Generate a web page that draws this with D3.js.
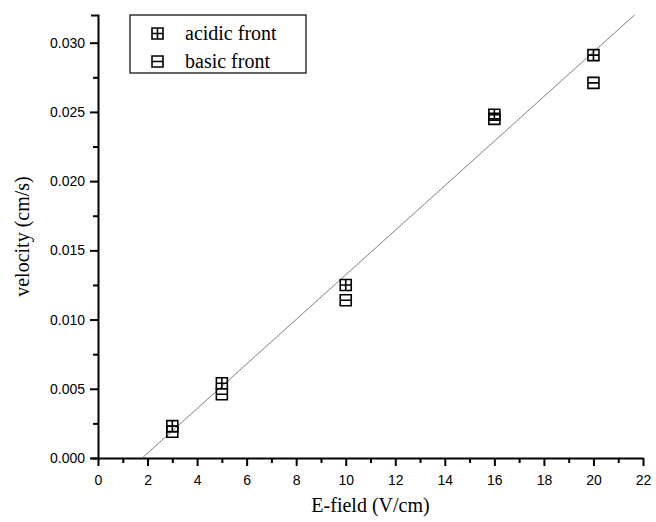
<!DOCTYPE html>
<html>
<head>
<meta charset="utf-8">
<script src="https://cdn.jsdelivr.net/npm/d3@7"></script>
<style>
  body { margin: 0; background: #fff; }
  .tick text { font-family: "Liberation Sans", Arial, sans-serif; font-size: 14px; fill: #000; }
  .title { font-family: "Liberation Serif", "Times New Roman", serif; font-size: 20px; fill: #000; }
</style>
</head>
<body>
<svg id="chart" width="656" height="522"></svg>
<script>
// E-field (V/cm) vs front velocity (cm/s)
const efield = [3, 5, 10, 16, 20];
const acidic = [0.0023, 0.0054, 0.0125, 0.0248, 0.0291];
const basic  = [0.0019, 0.0046, 0.0114, 0.0245, 0.0271];

// linear fit drawn through the points
const fitSlope = 0.00161;
const fitIntercept = -0.00287;

const xTicks = d3.range(0, 23, 2);
const yTicks = [0, 0.005, 0.010, 0.015, 0.020, 0.025, 0.030];

const svg = d3.select('#chart');

const x = d3.scaleLinear().domain([0, 22]).range([98, 643]);
const y = d3.scaleLinear().domain([0, 0.032]).range([458, 15]);

// minor ticks first, then major axes on top
svg.append('g')
    .attr('transform', `translate(0, ${y(0)})`)
    .call(d3.axisBottom(x).tickValues(d3.range(1, 22, 2)).tickSize(5).tickFormat(''))
    .call(g => g.select('.domain').remove());

svg.append('g')
    .attr('transform', `translate(${x(0)}, 0)`)
    .call(d3.axisLeft(y).tickValues(d3.range(0.0025, 0.031, 0.005)).tickSize(5).tickFormat(''))
    .call(g => g.select('.domain').remove());

svg.append('g')
    .attr('transform', `translate(0, ${y(0)})`)
    .call(d3.axisBottom(x).tickValues(xTicks).tickSize(8).tickSizeOuter(0).tickPadding(9).tickFormat(d3.format('d')));

svg.append('g')
    .attr('transform', `translate(${x(0)}, 0)`)
    .call(d3.axisLeft(y).tickValues(yTicks).tickSize(8).tickSizeOuter(7).tickPadding(5).tickFormat(d3.format('.3f')));

svg.selectAll('.domain, .tick line')
    .attr('stroke', '#000')
    .attr('stroke-width', 2);

// fit line, clipped to the plotting area
const x0 = -fitIntercept / fitSlope;
const x1 = (y.domain()[1] - fitIntercept) / fitSlope;
svg.append('line')
    .attr('x1', x(x0)).attr('y1', y(0))
    .attr('x2', x(x1)).attr('y2', y(fitSlope * x1 + fitIntercept))
    .attr('stroke', '#808080')
    .attr('stroke-width', 1);

// marker glyphs
const half = 5.5;
function boxPath(cx, cy, cross) {
  let p = `M${cx - half},${cy - half}h${2 * half}v${2 * half}h${-2 * half}Z` +
          `M${cx - half},${cy}h${2 * half}`;
  if (cross) p += `M${cx},${cy - half}v${2 * half}`;
  return p;
}

function drawSeries(values, cross) {
  svg.append('g')
    .selectAll('path')
    .data(values.map((v, i) => ({x: efield[i], y: v})))
    .enter()
    .append('path')
      .attr('d', d => boxPath(x(d.x), y(d.y), cross))
      .attr('fill', 'none')
      .attr('stroke', '#000')
      .attr('stroke-width', 1.6);
}
drawSeries(basic, false);
drawSeries(acidic, true);

// legend
const legend = svg.append('g');
legend.append('rect')
    .attr('x', 130).attr('y', 15)
    .attr('width', 176).attr('height', 58)
    .attr('fill', '#fff')
    .attr('stroke', '#000')
    .attr('stroke-width', 1.2);

[{label: 'acidic front', cross: true}, {label: 'basic front', cross: false}].forEach((d, i) => {
  const cy = 33.5 + i * 28;
  legend.append('path')
      .attr('d', boxPath(157.5, cy, d.cross))
      .attr('fill', 'none')
      .attr('stroke', '#000')
      .attr('stroke-width', 1.6);
  legend.append('text')
      .attr('class', 'title')
      .attr('x', 185)
      .attr('y', cy + 6)
      .text(d.label);
});

// axis titles
svg.append('text')
    .attr('class', 'title')
    .attr('x', (x(0) + x(22)) / 2)
    .attr('y', 512)
    .attr('text-anchor', 'middle')
    .text('E-field (V/cm)');

svg.append('text')
    .attr('class', 'title')
    .attr('transform', `translate(29, ${(y(0) + y(0.032)) / 2}) rotate(-90)`)
    .attr('text-anchor', 'middle')
    .text('velocity (cm/s)');
</script>
</body>
</html>
